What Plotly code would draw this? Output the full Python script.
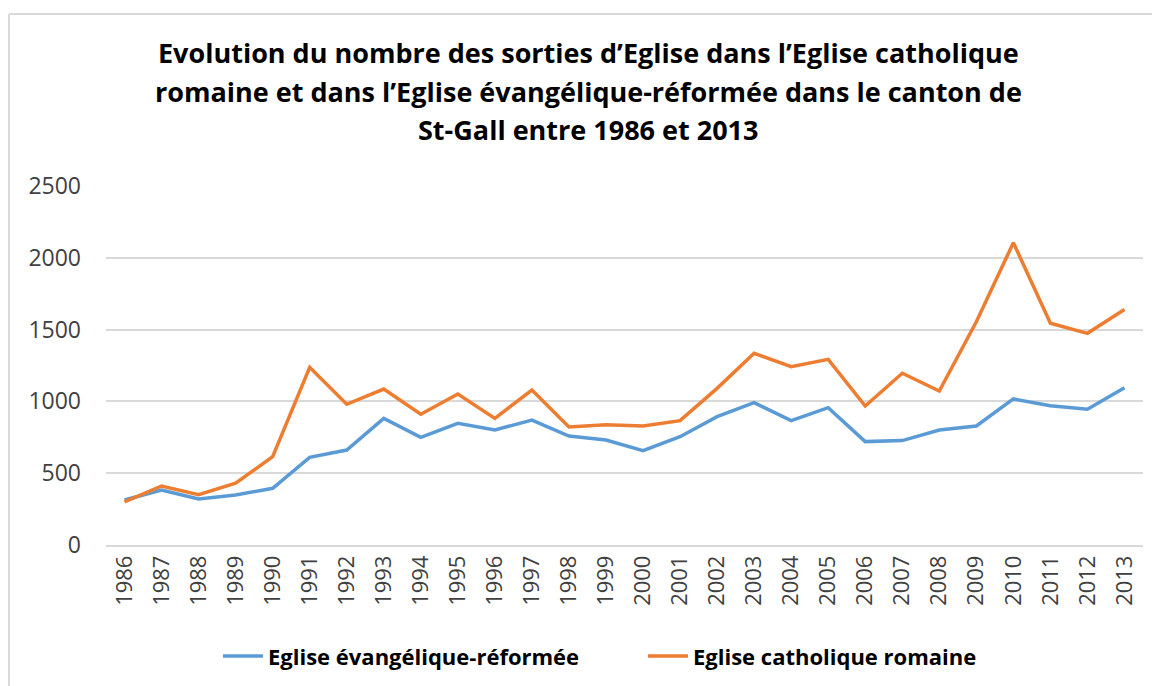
import plotly.graph_objects as go

# Years on the category axis
years = [str(y) for y in range(1986, 2014)]

# Church leavings - Eglise évangélique-réformée
reformee = [313, 383, 320, 348, 395, 610, 661, 882, 750, 847, 801, 870, 759, 731,
            657, 754, 894, 991, 866, 956, 720, 727, 801, 829, 1017, 970, 945, 1095]

# Church leavings - Eglise catholique romaine
catholique = [300, 411, 350, 430, 615, 1237, 980, 1086, 910, 1051, 882, 1079, 822, 838,
              829, 866, 1091, 1335, 1242, 1293, 968, 1196, 1072, 1555, 2105, 1544, 1474, 1640]

title_lines = [
    "Evolution du nombre des sorties d\u2019Eglise dans l\u2019Eglise catholique",
    "romaine et dans l\u2019Eglise \u00e9vang\u00e9lique-r\u00e9form\u00e9e dans le canton de",
    "St-Gall entre 1986 et 2013",
]

FONT = "Open Sans"

# Plot area in page pixels (reference): x 106..1143, y 186..545
PX0, PY0, PW, PH = 106, 545, 1037, 359

# Create the two lines
ref_line = go.Scatter(
    x=years, y=reformee, mode="lines",
    name="Eglise \u00e9vang\u00e9lique-r\u00e9form\u00e9e",
    line=dict(color="#5B9BD5", width=3.5),
)
cath_line = go.Scatter(
    x=years, y=catholique, mode="lines",
    name="Eglise catholique romaine",
    line=dict(color="#ED7D31", width=3.5),
)

fig = go.Figure(data=[ref_line, cath_line])

# Title as three centred lines
title_y = [52, 91, 130]
annotations = []
for txt, py in zip(title_lines, title_y):
    annotations.append(dict(
        text="<b>" + txt + "</b>", xref="paper", yref="paper",
        x=(588 - PX0) / PW, y=(PY0 - py) / PH,
        xanchor="center", yanchor="middle", showarrow=False,
        font=dict(family=FONT, size=27, color="#000000"),
    ))

# page body has an 8px margin, so the figure is 8px smaller each way
fig.update_layout(
    width=1152, height=678,
    margin=dict(l=98, r=17, t=178, b=141, autoexpand=False),
    paper_bgcolor="white", plot_bgcolor="white",
    font=dict(family=FONT, color="#404040"),
    annotations=annotations,
    showlegend=True,
    legend=dict(
        orientation="h", x=(218 - PX0) / PW, xanchor="left", y=-0.31, yanchor="middle",
        font=dict(family=FONT, size=22, color="#000000", weight="bold"),
        itemwidth=40, entrywidthmode="pixels", entrywidth=370,
    ),
    xaxis=dict(
        type="category", range=[-0.5, 27.5], tickangle=-90, showgrid=False,
        showline=True, linecolor="#D9D9D9", linewidth=1.5,
        tickfont=dict(family=FONT, size=22, color="#404040"),
        ticks="", ticklabelstandoff=0, automargin=False,
    ),
    yaxis=dict(
        range=[0, 2500], dtick=500, showgrid=True, gridcolor="#D9D9D9", gridwidth=1.5,
        zeroline=False, showline=False,
        tickfont=dict(family=FONT, size=23, color="#404040"),
        ticks="", ticklabelstandoff=24, automargin=False,
    ),
    shapes=[
        # chart area border (left and top)
        dict(type="line", xref="paper", yref="paper",
             x0=(9 - PX0) / PW, x1=(9 - PX0) / PW,
             y0=(PY0 - 14) / PH, y1=(PY0 - 700) / PH,
             line=dict(color="#D9D9D9", width=2)),
        dict(type="line", xref="paper", yref="paper",
             x0=(9 - PX0) / PW, x1=(1170 - PX0) / PW,
             y0=(PY0 - 14) / PH, y1=(PY0 - 14) / PH,
             line=dict(color="#D9D9D9", width=2)),
    ],
)

fig.write_html("out.html")
